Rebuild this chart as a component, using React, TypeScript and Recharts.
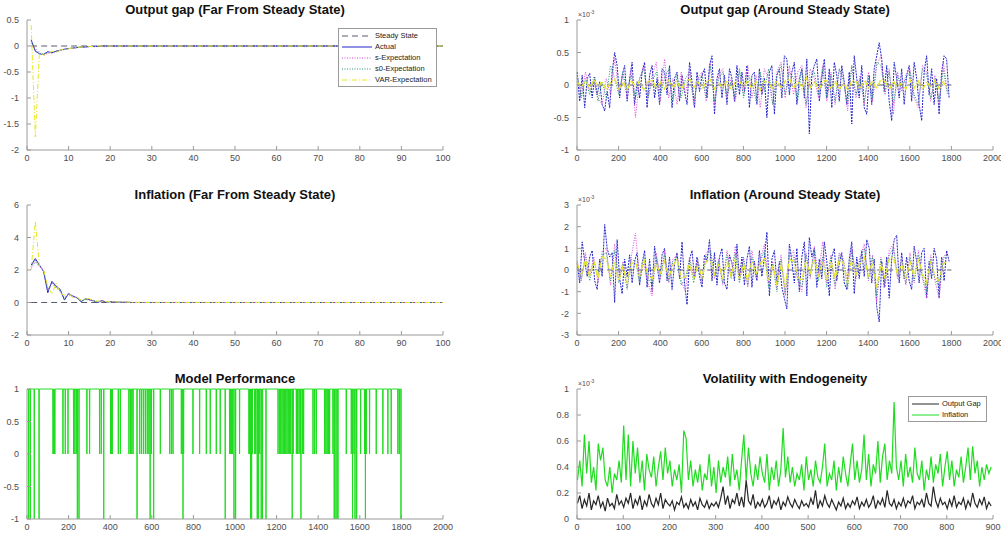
import React from 'react';
import { LineChart, Line, XAxis, YAxis, Legend } from 'recharts';

// ─── Figure geometry ────────────────────────────────────────────────────────

const PLOT_W = 416;
const PLOT_H = 130;
const AXIS_W = 30; // room for y tick labels
const AXIS_H = 22; // room for x tick labels
const PAD_T = 5;
const PAD_R = 8;
const PAD_R_LEFT = 16; // left column has room for the last x label

const AXIS_COLOR = '#9a9a9a';
const LABEL_COLOR = '#4d4d4d';
const FONT = '"Liberation Sans", Arial, Helvetica, sans-serif';

const C_STEADY = '#5a5a6e';
const C_ACTUAL = '#2626cc';
const C_S = '#dd44dd';
const C_S0 = '#1f9a74';
const C_VAR = '#e6e62a';
const C_GREEN = '#1fdc1f';
const C_BLACK = '#262626';

// ─── Far from steady state (t = 1..25, then flat to 100) ────────────────────

const farX = [1, 2, 3, 4, 5, 6, 7, 8, 9, 10, 11, 12, 13, 14, 15, 16, 17, 18, 19, 20, 21, 22, 23, 24, 25, 100];

const gapFarActual = [0.12, -0.1, -0.15, -0.16, -0.11, -0.13, -0.1, -0.08, -0.06, -0.05, -0.04, -0.03, -0.02, -0.02, -0.01, -0.01, -0.01, 0, 0, 0, 0, 0, 0, 0, 0, 0];
const gapFarS = [0.05, -0.05, -0.14, -0.17, -0.14, -0.12, -0.11, -0.08, -0.07, -0.05, -0.04, -0.03, -0.03, -0.02, -0.01, -0.01, 0, 0, 0, 0, 0, 0, 0, 0, 0, 0];
const gapFarS0 = [0.08, -0.08, -0.16, -0.15, -0.12, -0.14, -0.1, -0.09, -0.06, -0.05, -0.04, -0.03, -0.02, -0.02, -0.01, -0.01, 0, 0, 0, 0, 0, 0, 0, 0, 0, 0];
const gapFarVar = [0.4, -1.75, -0.1, -0.18, -0.15, -0.1, -0.12, -0.08, -0.06, -0.05, -0.04, -0.03, -0.02, -0.02, -0.01, -0.01, 0, 0, 0, 0, 0, 0, 0, 0, 0, 0];

const infFarActual = [2.3, 2.7, 2.3, 1.9, 0.6, 1.3, 1.0, 0.8, 0.15, 0.55, 0.4, 0.3, 0.05, 0.22, 0.18, 0.1, 0.0, 0.12, 0.03, 0.05, 0.02, 0.03, 0.01, 0.02, 0.0, 0];
const infFarS = [2.1, 2.5, 2.2, 2.0, 0.8, 1.2, 0.9, 0.7, 0.3, 0.5, 0.35, 0.3, 0.1, 0.2, 0.15, 0.1, 0.03, 0.1, 0.03, 0.05, 0.02, 0.03, 0.01, 0.02, 0.0, 0];
const infFarS0 = [2.2, 2.6, 2.25, 1.95, 0.7, 1.25, 0.95, 0.75, 0.2, 0.5, 0.38, 0.28, 0.08, 0.2, 0.16, 0.1, 0.02, 0.11, 0.03, 0.04, 0.02, 0.02, 0.01, 0.01, 0.0, 0];
const infFarVar = [2.0, 5.0, 2.2, 2.0, 1.0, 0.5, 1.2, 0.55, 0.45, 0.6, 0.3, 0.35, 0.15, 0.2, 0.25, 0.05, 0.1, 0.08, 0.05, 0.06, 0.03, 0.04, 0.02, 0.03, 0.01, 0];

const steadyX = [1, 100];
const steadyY = [0, 0];

// ─── Around steady state (x 10^-3), Actual every 12 periods, others every 20 ─

const gapAroundActual = [
  0.2, -0.25, 0.15, -0.35, 0.1, 0.18, -0.2, 0.12, -0.15,
  0.05, -0.3, -0.4, -0.1, -0.35, 0.2, 0.5, 0.3, -0.2,
  0.15, 0.3, -0.25, 0.1, 0.35, -0.3, 0.05, -0.2,
  0.2, 0.35, -0.35, 0.15, 0.3, -0.2, 0.1, -0.3, 0.25,
  0.2, -0.15, 0.3, -0.35, 0.1, 0.2, -0.25, 0.15,
  -0.1, -0.3, 0.35, 0.05, -0.35, 0.2, -0.1, 0.15,
  0.25, -0.2, 0.3, 0.45, -0.45, 0.1, 0.25, -0.2, 0.15,
  -0.3, 0.25, 0.1, -0.25, 0.3, -0.15, 0.2, -0.1,
  0.3, -0.35, 0.15, 0.2, -0.3, 0.25, -0.15, 0.1,
  -0.5, 0.2, 0.3, -0.45, 0.15, 0.25, -0.2, 0.45,
  0.4, -0.15, 0.2, 0.35, -0.3, 0.1, 0.25, -0.2,
  0.4, -0.75, 0.15, 0.3, 0.4, -0.25, 0.1, 0.4,
  -0.2, 0.25, -0.35, 0.35, 0.15, -0.25, 0.3, 0.05, -0.3,
  0.2, -0.6, 0.45, 0.1, -0.2, 0.3, -0.35, -0.45,
  0.15, -0.3, 0.25, 0.45, 0.65, 0.4, -0.1, 0.3,
  -0.25, -0.55, 0.35, 0.1, -0.2, 0.25, -0.3, 0.15,
  0.3, -0.25, 0.35, 0.1, -0.3, -0.55, 0.2, 0.45, -0.15,
  0.25, -0.3, 0.1, -0.45, 0.2, 0.45, 0.4, -0.2,
];
const gapAroundS = [
  0.1, -0.15, 0.2, -0.1, 0.05, -0.2, -0.3, 0.1, -0.15, 0.4,
  -0.1, 0.15, -0.2, 0.25, -0.5, 0.1, 0.3, -0.2, 0.15, 0.35,
  -0.25, 0.4, -0.2, 0.1, -0.3, 0.2, -0.15, 0.25, -0.3, 0.1,
  0.2, -0.25, 0.35, -0.3, 0.15, 0.25, -0.2, 0.1, -0.25, 0.2,
  -0.15, 0.3, -0.2, 0.15, -0.35, 0.25, 0.1, -0.3, 0.2, 0.35,
  -0.2, 0.3, -0.15, 0.2, 0.3, -0.35, 0.25, 0.1, -0.2, 0.3,
  -0.25, 0.2, -0.3, 0.25, 0.1, -0.4, 0.3, -0.2, 0.15, -0.3,
  0.2, -0.25, 0.3, 0.45, -0.15, 0.25, -0.45, 0.2, -0.1, 0.15,
  0.25, -0.2, -0.35, 0.3, 0.2, -0.25, 0.15, -0.3, 0.35, -0.1,
];
const gapAroundS0 = [
  0.15, -0.2, 0.1, -0.15, 0.12, -0.25, 0.05, -0.2, 0.3, 0.1,
  -0.15, 0.2, -0.1, 0.15, -0.2, 0.1, 0.25, -0.2, 0.05, 0.2,
  -0.15, 0.1, 0.25, -0.25, 0.15, -0.2, 0.1, 0.2, -0.25, 0.05,
  0.15, -0.2, 0.3, -0.25, 0.1, 0.2, -0.15, 0.05, -0.2, 0.25,
  -0.2, 0.15, 0.05, -0.25, 0.2, -0.1, 0.25, -0.3, 0.15, 0.3,
  -0.15, 0.2, 0.1, -0.25, 0.25, -0.3, 0.1, 0.2, -0.15, 0.25,
  -0.2, 0.15, -0.25, 0.25, 0.05, -0.3, 0.3, -0.15, 0.1, -0.25,
  0.15, -0.2, 0.35, 0.3, -0.1, 0.2, -0.3, 0.15, -0.05, 0.1,
  0.2, -0.15, -0.3, 0.25, 0.15, -0.2, 0.1, -0.25, 0.25, -0.15,
];
const gapAroundVar = [
  0.05, -0.05, 0.08, -0.06, 0.1, -0.04, 0.06, -0.08, 0.04, 0.09,
  -0.06, 0.05, -0.08, 0.07, -0.03, 0.06, -0.07, 0.05, 0.08, -0.05,
  0.04, -0.06, 0.07, -0.05, 0.06, -0.08, 0.05, 0.09, -0.04, 0.06,
  -0.07, 0.05, 0.08, -0.06, 0.04, -0.05, 0.07, -0.08, 0.05, 0.06,
  -0.04, 0.07, -0.06, 0.05, -0.08, 0.06, 0.04, -0.07, 0.08, -0.05,
  0.06, 0.1, -0.05, 0.07, -0.06, 0.12, -0.04, 0.06, -0.08, 0.05,
  0.07, -0.05, 0.06, -0.07, 0.04, -0.08, 0.06, 0.05, -0.06, 0.08,
  -0.04, 0.07, -0.06, 0.09, 0.05, -0.07, 0.06, -0.05, 0.04, -0.06,
  0.08, -0.05, 0.06, -0.07, 0.05, -0.04, 0.07, -0.06, 0.05, -0.08,
];

const infAroundActual = [
  0.3, -0.6, 1.3, 0.4, -0.3, 0.6, 0.9, -0.5, -0.9,
  0.5, -0.3, 2.1, 1.0, 0.6, 0.8, -1.5, 1.4, -0.4,
  -1.1, 0.5, -0.3, 0.7, -0.6, 0.4, 0.8, -0.7,
  0.3, 0.9, -0.8, 0.5, -1.0, 1.1, 0.2, -0.6, 0.7,
  1.0, -0.5, 0.6, -0.9, 0.3, 0.8, -0.4, 1.3,
  -0.6, -1.6, 0.5, 0.9, -0.4, 0.6, -0.3, -0.8,
  0.7, 0.4, 1.4, -0.5, 0.8, -0.7, 0.6, 1.0, -0.6,
  -0.9, 0.7, 0.3, -0.5, 1.2, -0.4, 0.6, -0.7,
  0.5, 1.1, -0.8, 0.4, -0.5, 0.9, -0.3, 0.6,
  1.75, -1.2, 0.5, 0.9, -0.6, 0.4, -0.8, -1.3,
  -1.8, 1.2, 0.4, -0.6, 1.0, -1.0, 0.6, 1.3,
  -1.2, 1.5, 0.6, 1.0, -0.8, 0.5, -0.4, 1.3,
  0.4, -1.2, 0.6, 1.0, -0.5, 0.3, 0.8, -0.6, -0.9,
  0.5, 1.3, -1.1, 0.6, -0.4, 0.9, -0.3, 1.4,
  1.0, -0.6, 0.5, -1.7, -2.4, 0.4, -0.8, 0.6,
  -1.3, 0.5, 1.4, 1.6, -0.6, 0.8, -0.4, 0.6,
  -0.5, -0.9, 1.1, 0.4, -0.6, 0.8, 1.0, -1.3, 0.4,
  -0.4, 1.0, 0.5, -1.3, 0.6, -0.5, 0.9, 0.4,
];
const infAroundS = [
  0.4, -0.5, 0.8, -0.3, 0.6, -0.6, 0.9, 1.0, -0.7, 1.2,
  -0.5, 0.4, -0.8, 0.6, 1.7, -0.4, 0.3, -0.6, -1.2, 0.8,
  -0.4, 0.9, -0.6, 0.5, 0.7, -0.5, -1.0, 0.6, -0.3, 0.5,
  -0.6, 0.8, 1.0, -0.4, 0.5, -0.7, 0.9, -0.3, 1.1, -0.5,
  0.6, -0.8, 0.9, -0.4, 0.5, 1.2, -0.6, 0.4, -0.9, 0.7,
  -1.2, 0.6, 0.9, -0.5, -1.0, 0.8, -0.4, 1.1, -0.3, 1.3,
  -0.6, 0.7, -0.9, 0.8, 0.5, -0.6, 1.1, -0.4, 0.6, 1.2,
  -0.5, 0.7, -1.5, 0.6, -0.8, 0.9, 1.2, -0.4, 0.5, -0.7,
  0.8, -0.6, 0.9, -0.4, -1.3, 0.7, -0.5, -1.3, 0.6, 0.8,
];
const infAroundS0 = [
  0.3, -0.4, 0.6, -0.5, 0.4, -0.3, 0.7, 0.8, -0.5, 0.9,
  -0.6, 0.3, -0.9, 0.5, 0.4, -0.6, 0.6, -0.4, -0.7, 0.6,
  -0.3, 0.7, -0.5, 0.4, 0.6, -0.7, -0.4, 0.5, -0.6, 0.4,
  -0.5, 0.6, 0.9, -0.3, 0.4, -0.6, 0.7, -0.4, 0.8, -0.6,
  0.5, -0.7, 0.6, -0.3, 0.4, 0.9, -0.8, 0.3, -1.0, 0.5,
  -1.1, 0.8, 0.6, -0.4, -0.8, 0.7, -0.3, 0.9, -0.5, 0.6,
  -0.8, 0.6, -0.7, 0.7, 0.4, -0.9, 0.9, -0.3, 0.5, 1.0,
  -0.4, 0.6, -1.2, 0.5, -0.6, 0.7, 1.0, -0.3, 0.4, -0.6,
  0.6, -0.5, 0.7, -0.3, -1.0, 0.5, -0.4, -0.8, 0.5, 0.7,
];
const infAroundVar = [
  0.3, -0.2, 0.5, -0.3, 0.4, -0.4, 0.6, 0.5, -0.3, 0.4,
  -0.5, 0.2, -0.6, 0.3, 0.4, -0.3, 0.5, -0.2, -0.4, 0.3,
  -0.2, 0.4, -0.3, 0.2, 0.5, -0.4, -0.3, 0.3, -0.4, 0.2,
  -0.3, 0.4, 0.5, -0.2, 0.3, -0.4, 0.4, -0.3, 0.5, -0.4,
  0.3, -0.5, 0.4, -0.2, 0.3, 0.5, -0.5, 0.2, -0.7, 0.3,
  -0.8, 0.5, 0.4, -0.3, -0.5, 0.4, -0.2, 0.5, -0.3, 0.4,
  -0.5, 0.4, -0.4, 0.5, 0.3, -0.6, 0.5, -0.2, 0.3, 0.6,
  -0.3, 0.4, -0.8, 0.3, -0.4, 0.5, 0.6, -0.2, 0.3, -0.4,
  0.4, -0.3, 0.5, -0.2, -0.6, 0.4, -0.3, -0.5, 0.3, 0.4,
];

// ─── Model performance: 1 unless the period is listed below ─────────────────

const perfMinusAt = [8, 16, 35, 58, 242, 250, 369, 529, 592, 609, 750, 953, 995, 1003, 1075, 1080, 1107, 1112, 1126, 1132, 1149, 1275, 1317, 1477, 1481, 1490, 1495, 1565, 1577, 1585, 1627, 1798];
const perfZeroAt = [
  125, 128, 131, 134, 173, 184, 197, 224, 230, 237, 288, 301, 349, 357, 402, 406, 410, 439, 449, 490, 497, 504, 510,
  542, 551, 560, 569, 578, 586, 598, 641, 686, 694, 702, 742, 746, 753, 798, 830, 862, 881, 910, 929, 974, 978, 983,
  988, 1022, 1067, 1071, 1083, 1095, 1100, 1119, 1207, 1215, 1220, 1226, 1232, 1238, 1244, 1250, 1256, 1262, 1268,
  1280, 1295, 1301, 1308, 1314, 1325, 1330, 1375, 1383, 1391, 1431, 1437, 1443, 1449, 1455, 1471, 1535, 1559, 1572,
  1604, 1623, 1631, 1647, 1679, 1711, 1735, 1751, 1783, 1790,
];

// ─── Volatility with endogeneity (x 10^-3), every 5 periods ─────────────────

const volInflation = [
  0.3, 0.45, 0.25, 0.65, 0.35, 0.6, 0.28, 0.4, 0.22, 0.58, 0.45, 0.55, 0.3, 0.25, 0.4, 0.2, 0.35, 0.3, 0.45, 0.28,
  0.72, 0.3, 0.65, 0.25, 0.6, 0.35, 0.55, 0.28, 0.45, 0.22, 0.5, 0.38, 0.32, 0.48, 0.25, 0.4, 0.52, 0.3, 0.55, 0.35,
  0.45, 0.25, 0.38, 0.3, 0.42, 0.2, 0.68, 0.62, 0.3, 0.45, 0.25, 0.38, 0.28, 0.42, 0.22, 0.35, 0.3, 0.5, 0.25, 0.4,
  0.2, 0.45, 0.28, 0.4, 0.32, 0.48, 0.25, 0.5, 0.3, 0.38, 0.22, 0.45, 0.65, 0.3, 0.55, 0.35, 0.25, 0.42, 0.3, 0.48,
  0.35, 0.28, 0.5, 0.22, 0.4, 0.3, 0.45, 0.25, 0.38, 0.7, 0.32, 0.48, 0.28, 0.4, 0.25, 0.35, 0.3, 0.42, 0.22, 0.48,
  0.3, 0.38, 0.25, 0.45, 0.32, 0.28, 0.4, 0.58, 0.25, 0.35, 0.3, 0.45, 0.22, 0.4, 0.28, 0.48, 0.35, 0.25, 0.42, 0.58,
  0.3, 0.45, 0.28, 0.38, 0.65, 0.3, 0.5, 0.25, 0.42, 0.35, 0.6, 0.28, 0.48, 0.58, 0.3, 0.45, 0.35, 0.9, 0.4, 0.3,
  0.45, 0.25, 0.5, 0.32, 0.4, 0.28, 0.55, 0.35, 0.3, 0.45, 0.22, 0.38, 0.3, 0.48, 0.28, 0.42, 0.35, 0.5, 0.25, 0.4,
  0.52, 0.3, 0.45, 0.25, 0.38, 0.32, 0.48, 0.28, 0.4, 0.55, 0.3, 0.56, 0.35, 0.45, 0.25, 0.4, 0.3, 0.42, 0.35, 0.4,
];
const volOutputGap = [
  0.12, 0.18, 0.08, 0.15, 0.1, 0.2, 0.07, 0.14, 0.11, 0.18, 0.09, 0.13, 0.06, 0.16, 0.1, 0.12, 0.08, 0.19, 0.11, 0.14,
  0.09, 0.16, 0.12, 0.2, 0.08, 0.15, 0.11, 0.18, 0.07, 0.14, 0.1, 0.19, 0.12, 0.09, 0.16, 0.11, 0.2, 0.08, 0.15, 0.12,
  0.1, 0.14, 0.07, 0.13, 0.11, 0.17, 0.09, 0.12, 0.08, 0.15, 0.1, 0.13, 0.07, 0.16, 0.11, 0.09, 0.14, 0.08, 0.12, 0.1,
  0.13, 0.09, 0.16, 0.25, 0.11, 0.18, 0.08, 0.15, 0.12, 0.2, 0.1, 0.17, 0.09, 0.3, 0.14, 0.11, 0.19, 0.08, 0.13, 0.1,
  0.15, 0.09, 0.12, 0.18, 0.08, 0.14, 0.11, 0.16, 0.07, 0.13, 0.1, 0.17, 0.12, 0.09, 0.15, 0.11, 0.08, 0.14, 0.1, 0.12,
  0.09, 0.16, 0.11, 0.22, 0.08, 0.14, 0.1, 0.18, 0.12, 0.09, 0.15, 0.11, 0.07, 0.13, 0.1, 0.16, 0.08, 0.12, 0.09, 0.14,
  0.11, 0.17, 0.08, 0.13, 0.1, 0.15, 0.09, 0.12, 0.18, 0.08, 0.14, 0.11, 0.16, 0.09, 0.22, 0.12, 0.1, 0.15, 0.08, 0.13,
  0.1, 0.16, 0.09, 0.14, 0.12, 0.18, 0.08, 0.13, 0.11, 0.15, 0.09, 0.2, 0.12, 0.1, 0.25, 0.14, 0.09, 0.16, 0.11, 0.13,
  0.08, 0.15, 0.1, 0.18, 0.09, 0.13, 0.11, 0.16, 0.08, 0.14, 0.1, 0.2, 0.12, 0.09, 0.15, 0.11, 0.17, 0.08, 0.13, 0.1,
];

// ─── Axis ticks ─────────────────────────────────────────────────────────────

const ticks0to100 = [0, 10, 20, 30, 40, 50, 60, 70, 80, 90, 100];
const ticks0to2000 = [0, 200, 400, 600, 800, 1000, 1200, 1400, 1600, 1800, 2000];
const ticks0to900 = [0, 100, 200, 300, 400, 500, 600, 700, 800, 900];
const ticksGapFar = [-2, -1.5, -1, -0.5, 0, 0.5];
const ticksInfFar = [-2, 0, 2, 4, 6];
const ticksUnit = [-1, -0.5, 0, 0.5, 1];
const ticksInfAround = [-3, -2, -1, 0, 1, 2, 3];
const ticksVol = [0, 0.2, 0.4, 0.6, 0.8, 1];

const farLegendOrder = ['Steady State', 'Actual', 's-Expectation', 's0-Expectation', 'VAR-Expectation'];
const volLegendOrder = ['Output Gap', 'Inflation'];

// ─── Series builders ────────────────────────────────────────────────────────

type Pt = { x: number; y: number };

const paired = (xs: number[], ys: number[]): Pt[] => xs.map((x, i) => ({ x, y: ys[i] }));
const sampled = (start: number, step: number, ys: number[]): Pt[] =>
  ys.map((y, i) => ({ x: start + i * step, y }));

function buildPerf(): Pt[] {
  const drops = [
    ...perfZeroAt.map((t) => [t, 0]),
    ...perfMinusAt.map((t) => [t, -1]),
  ].sort((a, b) => a[0] - b[0]);
  const pts: Pt[] = [{ x: 1, y: 1 }];
  drops.forEach(([t, d]) => {
    pts.push({ x: t - 1, y: 1 }, { x: t, y: d }, { x: t + 1, y: 1 });
  });
  pts.push({ x: 1800, y: 1 });
  return pts;
}

const perfData = buildPerf();

// ─── Line styles shared by plots and legends ────────────────────────────────

const seriesStyle: Record<string, { stroke: string; dash?: string }> = {
  'Steady State': { stroke: C_STEADY, dash: '6 4' },
  Actual: { stroke: C_ACTUAL },
  's-Expectation': { stroke: C_S, dash: '1 1.5' },
  's0-Expectation': { stroke: C_S0, dash: '1 1.5' },
  'VAR-Expectation': { stroke: C_VAR, dash: '5 2 1 2' },
  'Output Gap': { stroke: C_BLACK },
  Inflation: { stroke: C_GREEN },
};

function BoxLegend({ order, lineLen }: { order: string[]; lineLen: number }) {
  return (
    <div
      style={{
        border: `1px solid ${AXIS_COLOR}`,
        background: '#fff',
        padding: '1px 3px',
        font: `7.5px ${FONT}`,
        color: '#222',
      }}
    >
      {order.map((name) => {
        const s = seriesStyle[name];
        return (
          <div key={name} style={{ display: 'flex', alignItems: 'center', height: 11 }}>
            <svg width={lineLen} height={6} style={{ flexShrink: 0 }}>
              <line x1={0} y1={3} x2={lineLen} y2={3} stroke={s.stroke} strokeWidth={1} strokeDasharray={s.dash} />
            </svg>
            <span style={{ marginLeft: 3, whiteSpace: 'nowrap' }}>{name}</span>
          </div>
        );
      })}
    </div>
  );
}

function series(name: string, data: Pt[], width = 1, dash?: string) {
  const s = seriesStyle[name];
  return (
    <Line
      key={name}
      name={name}
      data={data}
      dataKey="y"
      type="linear"
      stroke={s.stroke}
      strokeWidth={width}
      strokeDasharray={dash ?? s.dash}
      dot={false}
      activeDot={false}
      isAnimationActive={false}
    />
  );
}

// ─── One MATLAB-style subplot ───────────────────────────────────────────────

const tickStyle = { fontSize: 9, fill: LABEL_COLOR, fontFamily: FONT };

interface PanelProps {
  left: number;
  top: number;
  title: string;
  xDomain: [number, number];
  xTicks: number[];
  yDomain: [number, number];
  yTicks: number[];
  padRight?: number;
  exponent?: boolean;
  children: React.ReactNode;
}

function Panel({ left, top, title, xDomain, xTicks, yDomain, yTicks, padRight = PAD_R, exponent, children }: PanelProps) {
  return (
    <>
      <div
        style={{
          position: 'absolute',
          left,
          top: top - 18,
          width: PLOT_W,
          textAlign: 'center',
          font: `bold 13px ${FONT}`,
          lineHeight: '15px',
          color: '#111',
          whiteSpace: 'nowrap',
        }}
      >
        {title}
      </div>
      {exponent && (
        <div
          style={{
            position: 'absolute',
            left: left + 1,
            top: top - 12,
            font: `7px ${FONT}`,
            lineHeight: '9px',
            color: LABEL_COLOR,
            whiteSpace: 'nowrap',
          }}
        >
          ×10<span style={{ fontSize: 5, verticalAlign: 3 }}>-3</span>
        </div>
      )}
      <div style={{ position: 'absolute', left: left - AXIS_W, top: top - PAD_T }}>
        <LineChart
          width={AXIS_W + PLOT_W + padRight}
          height={PAD_T + PLOT_H + AXIS_H}
          margin={{ top: PAD_T, right: padRight, bottom: 0, left: 0 }}
        >
          <XAxis
            type="number"
            dataKey="x"
            domain={xDomain}
            ticks={xTicks}
            interval={0}
            height={AXIS_H}
            tickSize={-4}
            tickMargin={9}
            stroke={AXIS_COLOR}
            tick={tickStyle}
          />
          <XAxis
            xAxisId="top"
            orientation="top"
            type="number"
            dataKey="x"
            domain={xDomain}
            ticks={xTicks}
            interval={0}
            height={0}
            tickSize={-4}
            tick={false}
            stroke={AXIS_COLOR}
          />
          <YAxis
            type="number"
            domain={yDomain}
            ticks={yTicks}
            interval={0}
            width={AXIS_W}
            tickSize={-4}
            tickMargin={12}
            stroke={AXIS_COLOR}
            tick={tickStyle}
          />
          <YAxis
            yAxisId="right"
            orientation="right"
            type="number"
            domain={yDomain}
            ticks={yTicks}
            interval={0}
            width={0}
            tickSize={-4}
            tick={false}
            stroke={AXIS_COLOR}
          />
          {children}
        </LineChart>
      </div>
    </>
  );
}

// ─── Figure ─────────────────────────────────────────────────────────────────

const LEFT_X = 27;
const RIGHT_X = 577;
const ROW_Y = [20, 205, 389];

export default function App() {
  const steady = paired(steadyX, steadyY);
  const steadyLong = paired([1, 1800], steadyY);

  return (
    <div
      style={{
        position: 'absolute',
        left: 0,
        top: 0,
        width: 1001,
        height: 537,
        background: '#fff',
        overflow: 'hidden',
        fontFamily: FONT,
      }}
    >
      <Panel
        left={LEFT_X}
        top={ROW_Y[0]}
        title="Output gap (Far From Steady State)"
        xDomain={[0, 100]}
        xTicks={ticks0to100}
        yDomain={[-2, 0.5]}
        yTicks={ticksGapFar}
        padRight={PAD_R_LEFT}
      >
        {series('Steady State', steady)}
        {series('Actual', paired(farX, gapFarActual))}
        {series('s-Expectation', paired(farX, gapFarS))}
        {series('s0-Expectation', paired(farX, gapFarS0))}
        {series('VAR-Expectation', paired(farX, gapFarVar))}
        <Legend
          layout="vertical"
          align="center"
          verticalAlign="middle"
          width={99}
          wrapperStyle={{ left: 341, top: 13, width: 99 }}
          content={<BoxLegend order={farLegendOrder} lineLen={30} />}
        />
      </Panel>

      <Panel
        left={LEFT_X}
        top={ROW_Y[1]}
        title="Inflation (Far From Steady State)"
        xDomain={[0, 100]}
        xTicks={ticks0to100}
        yDomain={[-2, 6]}
        yTicks={ticksInfFar}
        padRight={PAD_R_LEFT}
      >
        {series('Steady State', steady)}
        {series('Actual', paired(farX, infFarActual))}
        {series('s-Expectation', paired(farX, infFarS))}
        {series('s0-Expectation', paired(farX, infFarS0))}
        {series('VAR-Expectation', paired(farX, infFarVar))}
      </Panel>

      <Panel
        left={LEFT_X}
        top={ROW_Y[2]}
        title="Model Performance"
        xDomain={[0, 2000]}
        xTicks={ticks0to2000}
        yDomain={[-1, 1]}
        yTicks={ticksUnit}
        padRight={PAD_R_LEFT}
      >
        {series('Inflation', perfData)}
      </Panel>

      <Panel
        left={RIGHT_X}
        top={ROW_Y[0]}
        title="Output gap (Around Steady State)"
        xDomain={[0, 2000]}
        xTicks={ticks0to2000}
        yDomain={[-1, 1]}
        yTicks={ticksUnit}
        exponent
      >
        {series('Steady State', steadyLong)}
        {series('Actual', sampled(1, 12, gapAroundActual), 1, '2 1')}
        {series('s-Expectation', sampled(1, 20, gapAroundS))}
        {series('s0-Expectation', sampled(1, 20, gapAroundS0))}
        {series('VAR-Expectation', sampled(1, 20, gapAroundVar), 1.5)}
      </Panel>

      <Panel
        left={RIGHT_X}
        top={ROW_Y[1]}
        title="Inflation (Around Steady State)"
        xDomain={[0, 2000]}
        xTicks={ticks0to2000}
        yDomain={[-3, 3]}
        yTicks={ticksInfAround}
        exponent
      >
        {series('Steady State', steadyLong)}
        {series('Actual', sampled(1, 12, infAroundActual), 1, '2 1')}
        {series('s-Expectation', sampled(1, 20, infAroundS))}
        {series('s0-Expectation', sampled(1, 20, infAroundS0))}
        {series('VAR-Expectation', sampled(1, 20, infAroundVar), 1.5)}
      </Panel>

      <Panel
        left={RIGHT_X}
        top={ROW_Y[2]}
        title="Volatility with Endogeneity"
        xDomain={[0, 900]}
        xTicks={ticks0to900}
        yDomain={[0, 1]}
        yTicks={ticksVol}
        exponent
      >
        {series('Output Gap', sampled(1, 5, volOutputGap), 1.2)}
        {series('Inflation', sampled(1, 5, volInflation), 1.2)}
        <Legend
          layout="vertical"
          align="center"
          verticalAlign="middle"
          width={79}
          wrapperStyle={{ left: 361, top: 12, width: 79 }}
          content={<BoxLegend order={volLegendOrder} lineLen={27} />}
        />
      </Panel>
    </div>
  );
}
